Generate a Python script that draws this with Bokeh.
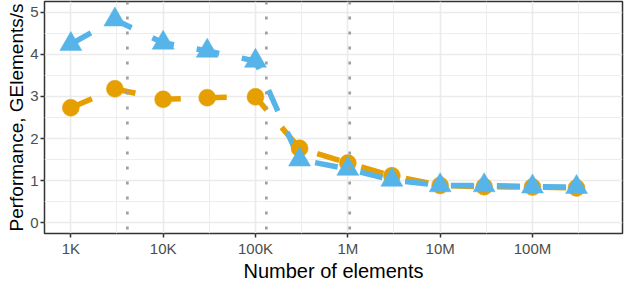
from bokeh.plotting import figure
from bokeh.models import Range1d, FixedTicker, Span, CustomJSTickFormatter
from bokeh.embed import file_html
from bokeh.resources import INLINE

# ---- data ----
n_elements = [1e3, 3e3, 1e4, 3e4, 1e5, 3e5, 1e6, 3e6, 1e7, 3e7, 1e8, 3e8]
perf_orange = [2.73, 3.18, 2.93, 2.97, 2.99, 1.77, 1.42, 1.12, 0.89, 0.86, 0.85, 0.83]
perf_blue = [4.24, 4.82, 4.27, 4.08, 3.84, 1.50, 1.28, 1.02, 0.89, 0.89, 0.86, 0.85]
cache_marks = [4096, 131072, 1048576]

x_tick_values = [1e3, 1e4, 1e5, 1e6, 1e7, 1e8]
x_tick_labels = ["1K", "10K", "100K", "1M", "10M", "100M"]
x_minor_values = [3162.28, 31622.8, 316228.0, 3162280.0, 31622800.0, 316228000.0]
y_tick_values = [0, 1, 2, 3, 4, 5]
y_minor_values = [0.5, 1.5, 2.5, 3.5, 4.5]

ORANGE = "#E69F00"
BLUE = "#56B4E9"
FONT = "Liberation Sans"

p = figure(width=624, height=284, x_axis_type="log",
           x_range=Range1d(10 ** 2.715, 10 ** 8.975),
           y_range=Range1d(-0.25, 5.25),
           output_backend="svg", toolbar_location=None,
           min_border_left=44, min_border_right=2,
           min_border_top=1, min_border_bottom=45)

p.background_fill_color = "white"
p.border_fill_color = "white"
p.outline_line_color = "#333333"
p.outline_line_width = 1.5

# grids
p.xgrid.ticker = FixedTicker(ticks=x_tick_values, minor_ticks=x_minor_values)
p.ygrid.ticker = FixedTicker(ticks=y_tick_values, minor_ticks=y_minor_values)
for g in (p.xgrid, p.ygrid):
    g.grid_line_color = "#EBEBEB"
    g.grid_line_width = 1.6
    g.minor_grid_line_color = "#EBEBEB"
    g.minor_grid_line_width = 0.9

# axes
p.xaxis.ticker = FixedTicker(ticks=x_tick_values, minor_ticks=[])
p.xaxis.formatter = CustomJSTickFormatter(
    args=dict(values=x_tick_values, labels=x_tick_labels),
    code="""
    for (let i = 0; i < values.length; i++) {
        if (Math.abs(values[i] - tick) / values[i] < 1e-6) return labels[i];
    }
    return "";
    """)
p.yaxis.ticker = FixedTicker(ticks=y_tick_values, minor_ticks=[])

p.xaxis.axis_label = "Number of elements"
p.yaxis.axis_label = "Performance, GElements/s"
for ax in (p.xaxis, p.yaxis):
    ax.axis_line_color = None
    ax.major_tick_line_color = "#333333"
    ax.major_tick_line_width = 1.5
    ax.major_tick_out = 4
    ax.major_tick_in = 0
    ax.minor_tick_line_color = None
    ax.major_label_text_font = FONT
    ax.major_label_text_font_size = "15px"
    ax.major_label_text_color = "#4D4D4D"
    ax.major_label_standoff = 2
    ax.axis_label_text_font = FONT
    ax.axis_label_text_font_style = "normal"
    ax.axis_label_text_color = "black"
    ax.axis_label_standoff = 0
p.xaxis.axis_label_text_font_size = "20px"
p.yaxis.axis_label_text_font_size = "19px"

# lines
p.line(n_elements, perf_orange, line_color=ORANGE, line_width=5.5,
       line_dash="23 23", line_join="round")
p.line(n_elements, perf_blue, line_color=BLUE, line_width=5.5,
       line_dash="23 23", line_join="round")

# points
p.scatter(n_elements, perf_orange, marker="circle", size=17,
          fill_color=ORANGE, line_color=ORANGE, line_width=0.5)
p.scatter(n_elements, perf_blue, marker="triangle", size=22,
          fill_color=BLUE, line_color=BLUE, line_width=0.5)

# cache-size markers (drawn on top)
for xm in cache_marks:
    p.add_layout(Span(location=xm, dimension="height", line_color="#A0A0A0",
                      line_width=2.7, line_dash="3 12"))

open("out.html", "w").write(file_html(p, INLINE))
